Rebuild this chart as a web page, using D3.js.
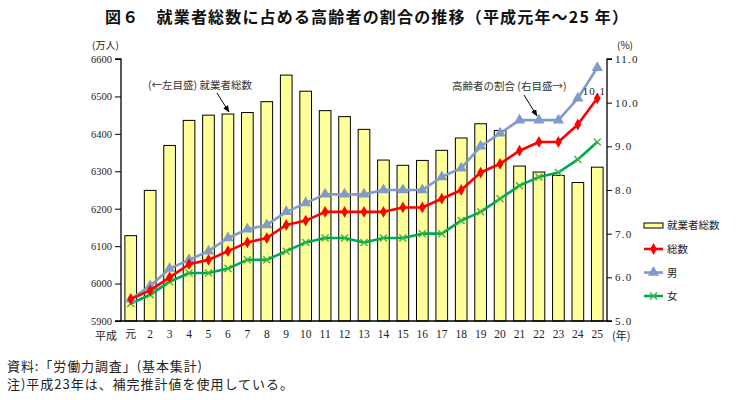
<!DOCTYPE html>
<html><head><meta charset="utf-8">
<script src="https://cdn.jsdelivr.net/npm/d3@7"></script>
<style>
body{margin:0;background:#fff;}
text{font-family:"Noto Sans CJK JP","Noto Sans",sans-serif;}
.num{font-family:"Liberation Serif","DejaVu Serif",serif;}
</style></head>
<body><svg id="c" width="750" height="400"></svg>
<script>
const categories = ["元","2","3","4","5","6","7","8","9","10","11","12","13","14","15","16","17","18","19","20","21","22","23","24","25"];
const employed = [6128,6249,6369,6436,6450,6453,6457,6486,6557,6514,6462,6446,6412,6330,6316,6329,6356,6389,6427,6409,6314,6298,6289,6270,6311];
const shareTotal = [5.5,5.7,6.0,6.3,6.4,6.6,6.8,6.9,7.2,7.3,7.5,7.5,7.5,7.5,7.6,7.6,7.8,8.0,8.4,8.6,8.9,9.1,9.1,9.5,10.1];
const shareMale = [5.5,5.8,6.2,6.4,6.6,6.9,7.1,7.2,7.5,7.7,7.9,7.9,7.9,8.0,8.0,8.0,8.3,8.5,9.0,9.3,9.6,9.6,9.6,10.1,10.8];
const shareFemale = [5.4,5.6,5.9,6.1,6.1,6.2,6.4,6.4,6.6,6.8,6.9,6.9,6.8,6.9,6.9,7.0,7.0,7.3,7.5,7.8,8.1,8.3,8.4,8.7,9.1];
const leftTicks = [5900,6000,6100,6200,6300,6400,6500,6600];
const rightTicks = [5,6,7,8,9,10,11];

const svg = d3.select("#c");
const L = 121, R = 607, T = 59, B = 321;
const x = d3.scaleBand().domain(categories).range([L, R]).paddingInner(0.4).paddingOuter(0.2);
const yL = d3.scaleLinear().domain([5900, 6600]).range([B, T]);
const yR = d3.scaleLinear().domain([5, 11]).range([B, T]);
const cx = d => x(d) + x.bandwidth() / 2;

// title
svg.append("text").attr("x", 105).attr("y", 23)
  .attr("font-size", 16).attr("font-weight", "bold").attr("fill", "#111")
  .attr("textLength", 523).attr("lengthAdjust", "spacing")
  .text("図６　就業者総数に占める高齢者の割合の推移（平成元年～25 年）");

// bars
svg.append("g").selectAll("rect").data(employed).join("rect")
  .attr("x", (d, i) => x(categories[i])).attr("y", d => yL(d))
  .attr("width", x.bandwidth()).attr("height", d => B - yL(d))
  .attr("fill", "#FFFF99").attr("stroke", "#000").attr("stroke-width", 1);

// axes
const gl = svg.append("g").attr("transform", `translate(${L},0)`)
  .call(d3.axisLeft(yL).tickValues(leftTicks).tickSize(6).tickFormat(d3.format("d")));
const gr = svg.append("g").attr("transform", `translate(${R},0)`)
  .call(d3.axisRight(yR).tickValues(rightTicks).tickSize(5).tickFormat(d3.format(".1f")));
const gb = svg.append("g").attr("transform", `translate(0,${B})`)
  .call(d3.axisBottom(x).tickSize(0).tickPadding(9));
[gl, gr, gb].forEach(g => {
  g.select(".domain").attr("stroke", "#000").attr("stroke-width", 1.3);
  g.selectAll(".tick line").attr("stroke", "#000");
  g.selectAll("text").attr("class", "num").attr("fill", "#222").attr("font-size", 11);
});
gl.select(".domain").attr("d", `M-6,${T}H0V${B}H-6`);
gr.select(".domain").attr("d", `M5,${T}H0V${B}H5`);
gb.select(".domain").attr("d", `M${L},0H${R}`);
gl.selectAll("text").attr("font-size", 10.5).attr("x", -9);
gr.selectAll("text").attr("letter-spacing", 1.2).attr("x", 8);
gb.selectAll("text").attr("font-size", 11.5);
gb.selectAll(".tick").filter(d => d === "元").select("text")
  .attr("style", "font-family:'Noto Sans CJK JP'").attr("font-size", 11);

svg.append("text").attr("x", 117).attr("y", 340).attr("text-anchor", "end")
  .attr("font-size", 11).attr("fill", "#222").text("平成");
svg.append("text").attr("x", 612).attr("y", 340)
  .attr("font-size", 11).attr("fill", "#222").text("(年)");
svg.append("text").attr("x", 92).attr("y", 49)
  .attr("font-size", 10).attr("fill", "#222").text("(万人)");
svg.append("text").attr("x", 617).attr("y", 49)
  .attr("font-size", 10).attr("fill", "#222").text("(%)");

// lines
const series = [
  {name: "総数", data: shareTotal, color: "#FF0000", marker: "diamond"},
  {name: "男", data: shareMale, color: "#7F9BCB", marker: "triangle"},
  {name: "女", data: shareFemale, color: "#00A84F", marker: "x"}
];
const order = [series[2], series[1], series[0]];
function marker(g, type, color, px, py) {
  if (type === "diamond") {
    g.append("path").attr("d", d3.symbol(d3.symbolDiamond, 40)()).attr("transform", `translate(${px},${py})`).attr("fill", color);
  } else if (type === "triangle") {
    g.append("path").attr("d", d3.symbol(d3.symbolTriangle, 55)()).attr("transform", `translate(${px},${py})`).attr("fill", color);
  } else {
    g.append("path").attr("d", `M${px-3.5},${py-3.5}L${px+3.5},${py+3.5}M${px-3.5},${py+3.5}L${px+3.5},${py-3.5}`)
      .attr("stroke", "#3CB44B").attr("stroke-width", 1.4).attr("fill", "none");
  }
}
order.forEach(s => {
  const g = svg.append("g");
  const line = d3.line().x((d, i) => cx(categories[i])).y(d => yR(d));
  g.append("path").attr("d", line(s.data)).attr("fill", "none")
    .attr("stroke", s.color).attr("stroke-width", 2.6).attr("stroke-linejoin", "round");
  s.data.forEach((d, i) => marker(g, s.marker, s.color, cx(categories[i]), yR(d)));
});

// value label
svg.append("text").attr("class", "num").attr("x", 606).attr("y", 95).attr("text-anchor", "end")
  .attr("font-size", 11).attr("fill", "#222").attr("letter-spacing", 1).text("10.1");

// annotations
svg.append("defs").append("marker").attr("id", "ah").attr("viewBox", "0 0 10 10")
  .attr("refX", 9).attr("refY", 5).attr("markerWidth", 7).attr("markerHeight", 7).attr("orient", "auto")
  .append("path").attr("d", "M0,1L10,5L0,9z").attr("fill", "#000");
svg.append("text").attr("x", 148).attr("y", 89).attr("font-size", 10.5).attr("fill", "#333")
  .text("(←左目盛) 就業者総数");
svg.append("line").attr("x1", 217).attr("y1", 93).attr("x2", 229).attr("y2", 112)
  .attr("stroke", "#000").attr("stroke-width", 1).attr("marker-end", "url(#ah)");
svg.append("text").attr("x", 452).attr("y", 90).attr("font-size", 10.5).attr("fill", "#333")
  .text("高齢者の割合 (右目盛→)");
svg.append("line").attr("x1", 524).attr("y1", 95).attr("x2", 537).attr("y2", 116)
  .attr("stroke", "#000").attr("stroke-width", 1).attr("marker-end", "url(#ah)");

// legend
const lg = svg.append("g");
lg.append("rect").attr("x", 644).attr("y", 223).attr("width", 19).attr("height", 5)
  .attr("fill", "#FFFF99").attr("stroke", "#000");
lg.append("text").attr("x", 667).attr("y", 229).attr("font-size", 10.5).attr("fill", "#222").text("就業者総数");
series.forEach((s, i) => {
  const yy = 249 + i * 23.5;
  lg.append("line").attr("x1", 644).attr("x2", 663).attr("y1", yy).attr("y2", yy)
    .attr("stroke", s.color).attr("stroke-width", 2.6);
  marker(lg, s.marker, s.color, 653.5, yy);
  lg.append("text").attr("x", 667).attr("y", yy + 4).attr("font-size", 10.5).attr("fill", "#222").text(s.name);
});

// notes
svg.append("text").attr("x", 7).attr("y", 371).attr("font-size", 13).attr("fill", "#222")
  .attr("textLength", 195).attr("lengthAdjust", "spacing")
  .text("資料:「労働力調査」(基本集計)");
svg.append("text").attr("x", 7).attr("y", 389).attr("font-size", 13).attr("fill", "#222")
  .attr("textLength", 286).attr("lengthAdjust", "spacing")
  .text("注)平成23年は、補完推計値を使用している。");
</script></body></html>
